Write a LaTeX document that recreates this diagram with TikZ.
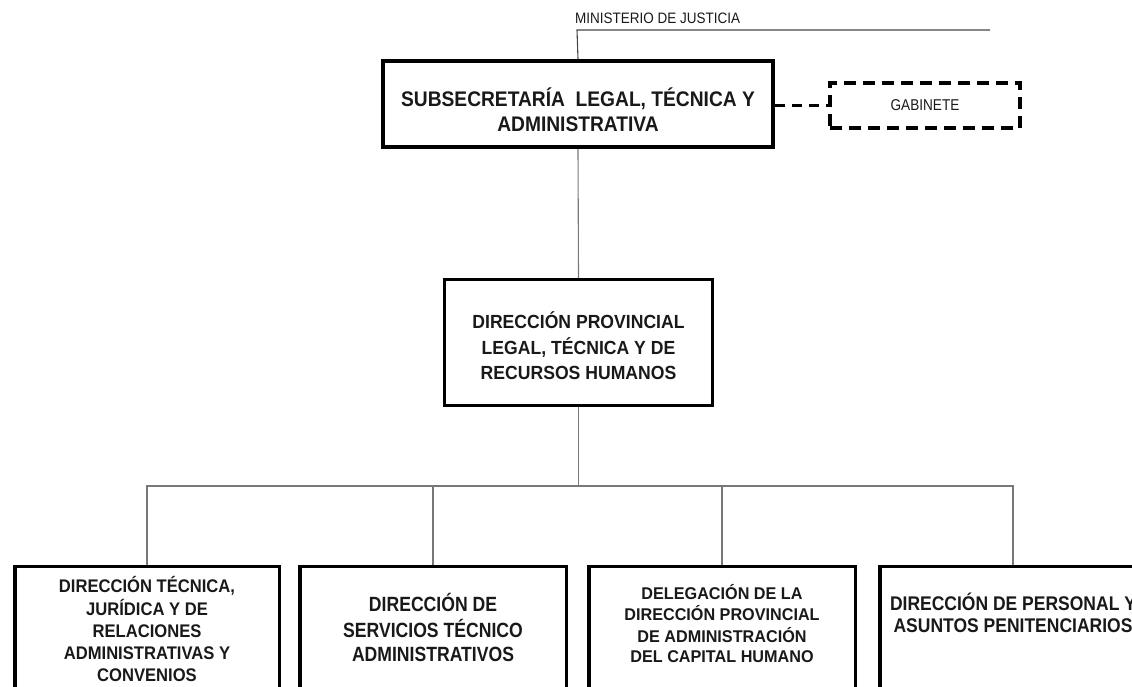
\documentclass[tikz,border=0pt]{standalone}
\usepackage{graphicx}
\usepackage{fontspec}
\setmainfont{Liberation Sans}
\definecolor{wireg}{RGB}{120,120,120}
\definecolor{wired}{RGB}{70,70,70}
% a centred block of lines, stretched vertically by #1
\newcommand\tallblock[2]{\scalebox{1}[#1]{\begin{tabular}{@{}c@{}}#2\end{tabular}}}
\begin{document}
\begin{tikzpicture}[x=1pt,y=-1pt,
  unitbox/.style={draw=black, line width=#1, fill=none, inner sep=0pt},
  gabbox/.style={draw=black, line width=3.5pt, inner sep=0pt,
    dash pattern=on 12pt off 7pt},
  wire/.style={draw=wireg, line width=1.1pt},
  dashwire/.style={draw=black, line width=2.5pt, dash pattern=on 10pt off 7pt},
  caption/.style={inner sep=0pt, align=center, text=black!90},
]
\useasboundingbox (0,0) rectangle (1132,687);
\clip (0,0) rectangle (1132,687);

% ministry heading and its rule
\node[caption, anchor=base west, font=\fontsize{13.5}{16}\selectfont] (min) at (575,23.5)
  {\scalebox{1}[1.12]{MINISTERIO DE JUSTICIA}};
\coordinate (topl) at (577,30);
\coordinate (topr) at (990,30);

% upper units
\node[unitbox=4pt, minimum width=390, minimum height=86] (sub) at (578,104) {};
\node[caption, font=\bfseries\fontsize{19.2}{22.6}\selectfont] (subt) at (578,113)
  {\tallblock{1.1}{SUBSECRETARÍA\ \ LEGAL, TÉCNICA Y\\ADMINISTRATIVA}};

\node[gabbox, minimum width=190, minimum height=45] (gab) at (925,105.5) {};
\node[caption, font=\fontsize{13.6}{16}\selectfont] (gabt) at (925,105)
  {\scalebox{1}[1.15]{GABINETE}};

\node[unitbox=3pt, minimum width=268, minimum height=126] (dp) at (578.5,342.5) {};
\node[caption, font=\bfseries\fontsize{17.6}{23.4}\selectfont] (dpt) at (578.5,349)
  {\tallblock{1.08}{DIRECCIÓN PROVINCIAL\\LEGAL, TÉCNICA Y DE\\RECURSOS HUMANOS}};

% lower units
\node[unitbox=3.5pt, minimum width=264.5, minimum height=163] (b1) at (147,648) {};
\node[unitbox=3.5pt, minimum width=266.5, minimum height=163] (b2) at (433,648) {};
\node[unitbox=3.5pt, minimum width=266.5, minimum height=163] (b3) at (722,648) {};
\node[unitbox=3.5pt, minimum width=266.5, minimum height=163] (b4) at (1013,648) {};

\node[caption, font=\bfseries\fontsize{16.6}{20.0}\selectfont] (b1t) at (147,632)
  {\tallblock{1.1}{DIRECCIÓN TÉCNICA,\\JURÍDICA Y DE\\RELACIONES\\ADMINISTRATIVAS Y\\CONVENIOS}};
\node[caption, font=\bfseries\fontsize{17.6}{20.5}\selectfont] (b2t) at (433,631)
  {\tallblock{1.17}{DIRECCIÓN DE\\SERVICIOS TÉCNICO\\ADMINISTRATIVOS}};
\node[caption, font=\bfseries\fontsize{16.2}{19.2}\selectfont] (b3t) at (722,626.5)
  {\tallblock{1.05}{DELEGACIÓN DE LA\\DIRECCIÓN PROVINCIAL\\DE ADMINISTRACIÓN\\DEL CAPITAL HUMANO}};
\node[caption, font=\bfseries\fontsize{17.5}{20.0}\selectfont] (b4t) at (1013,616)
  {\tallblock{1.13}{DIRECCIÓN DE PERSONAL Y\\ASUNTOS PENITENCIARIOS}};

% connectors
\coordinate (bus) at (0,486);
\draw[draw=wired, line width=1.1pt] (topr) -- (topl) -- (sub.north);
\draw[dashwire] (sub.east |- gab.west) -- (gab.west);
\draw[wire] (sub.south) -- (dp.north);
\draw[wire] (dp.south) -- (dp.south |- bus);
\draw[wire] (b1.north) -- (b1.north |- bus) -- (b4.north |- bus) -- (b4.north);
\draw[wire] (b2.north) -- (b2.north |- bus);
\draw[wire] (b3.north) -- (b3.north |- bus);
\end{tikzpicture}
\end{document}
